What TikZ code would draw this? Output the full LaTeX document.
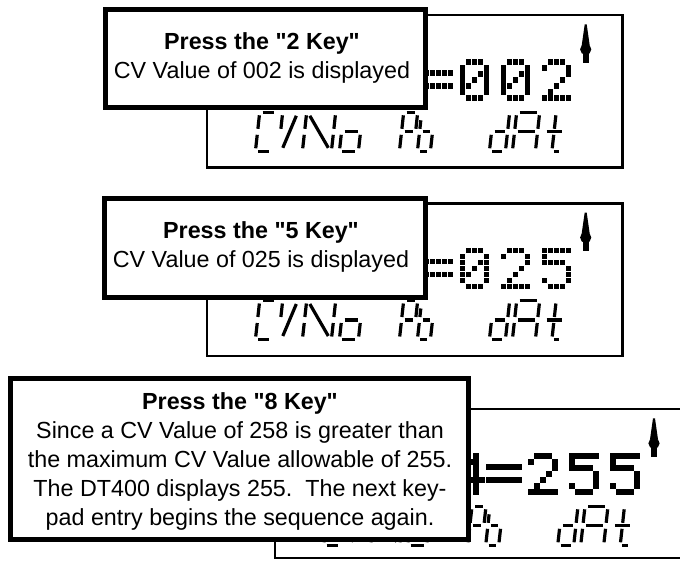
\documentclass[tikz,border=0pt]{standalone}
\usepackage{fontspec}
\setmainfont{Liberation Sans}
\tikzset{
  lcdpanel/.style={draw,line width=2.2pt,fill=white,inner sep=0pt,outer sep=0pt,anchor=north west,minimum width=415.8pt},
  keybox/.style={draw,line width=5pt,fill=white,inner sep=0pt,outer sep=0pt},
  keytext/.style={align=center,inner sep=0pt,anchor=north,font=\fontsize{23.3pt}{29pt}\selectfont},
  lcdseg/.style={line width=3.2pt}
}
\newcommand{\segA}{\draw[lcdseg] (3,0) -- (\chw-3,0);}
\newcommand{\segB}{\draw[lcdseg] (\chw,3) -- (\chw,16.5);}
\newcommand{\segC}{\draw[lcdseg] (\chw,22.5) -- (\chw,36);}
\newcommand{\segD}{\draw[lcdseg] (3,39) -- (\chw-3,39);}
\newcommand{\segE}{\draw[lcdseg] (0,22.5) -- (0,36);}
\newcommand{\segF}{\draw[lcdseg] (0,3) -- (0,16.5);}
\newcommand{\segS}{\draw[lcdseg] (0,8) -- (0,16.5);}
\newcommand{\segG}{\draw[lcdseg] (3,19.5) -- (\chw-3,19.5);}
\newcommand{\segI}{\draw[lcdseg] (\chw/2,3) -- (\chw/2,16.5);}
\newcommand{\segM}{\draw[lcdseg] (\chw/2,22.5) -- (\chw/2,36);}
\newcommand{\segQ}{\draw[lcdseg] (\chw/2+2,39) -- (\chw-3,39);}
\newcommand{\segX}{\draw[lcdseg] (3.5,3.5) -- (\chw-3.5,35.5);}
\newcommand{\segZ}{\draw[lcdseg] (4,35.5) -- (\chw-3,3.5);}
\newcommand{\lcdch}[3]{\begin{scope}[shift={(#1,97)},xslant=0.11]\def\chw{#2}\foreach \sg in {#3}{\csname seg\sg\endcsname}\end{scope}}
\newcommand{\dmzero}{1/0,2/0,3/0,0/1,4/1,0/2,3/2,4/2,0/3,2/3,4/3,0/4,1/4,4/4,0/5,4/5,1/6,2/6,3/6}
\newcommand{\dmtwo}{1/0,2/0,3/0,0/1,4/1,4/2,3/3,2/4,1/5,0/6,1/6,2/6,3/6,4/6}
\newcommand{\dmfive}{0/0,1/0,2/0,3/0,4/0,0/1,0/2,1/2,2/2,3/2,4/3,4/4,0/5,4/5,1/6,2/6,3/6}
\newcommand{\dmfour}{3/0,2/1,3/1,1/2,3/2,0/3,3/3,0/4,1/4,2/4,3/4,4/4,3/5,3/6}
\newcommand{\dmchar}[2]{\foreach \cx/\ry in #2 {\fill ({#1+6*\cx},{44+6*\ry}) rectangle ++(5.6,5.6);}}
\newcommand{\lcdscreen}[4]{\begin{scope}[shift={#1}]
\dmchar{180}{\dmfour}
\foreach \cx in {0,...,5} {\fill ({211+6*\cx},55) rectangle ++(5.6,5.6); \fill ({211+6*\cx},68) rectangle ++(5.6,5.6);}
\dmchar{253}{#2}\dmchar{294}{#3}\dmchar{335}{#4}
\fill (378,9) -- (380,9) -- (383,30) -- (375,30) -- cycle;
\fill (379,34) circle (5.6pt);
\fill (376,38) rectangle (382,47.5);
\lcdch{53}{17}{A,F,E,D}\lcdch{76}{17}{F,Z}\lcdch{100}{29}{F,E,X,B,C}\lcdch{137}{19}{G,E,D,C}
\lcdch{197}{14}{A,B,F,G,E}\lcdch{215}{13}{S,G,E,D,C}
\lcdch{287}{16}{B,C,D,E,G}\lcdch{310}{23}{A,B,C,E,F,G}\lcdch{339}{21}{I,M,G,Q}
\end{scope}}

\begin{document}
\begin{tikzpicture}[x=1pt,y=-1pt]
\useasboundingbox (0,0) rectangle (680,560);

\node[lcdpanel,minimum height=152.2pt] (panelTwo) at (206.7,15.3) {};
\lcdscreen{(206.7,15.3)}{\dmzero}{\dmzero}{\dmtwo}
\node[keybox,minimum width=319.5pt,minimum height=98pt] (keyTwo) at (265.3,58.5) {};
\node[keytext] (keyTwoText) at (262,32) {\textbf{Press the \textquotedbl2 Key\textquotedbl}\\CV Value of 002 is displayed};

\node[lcdpanel,minimum height=152.2pt] (panelFive) at (206.7,203.5) {};
\lcdscreen{(206.7,203.5)}{\dmzero}{\dmtwo}{\dmfive}
\node[keybox,minimum width=320.5pt,minimum height=99pt] (keyFive) at (264.8,247.5) {};
\node[keytext] (keyFiveText) at (261,221.7) {\textbf{Press the \textquotedbl5 Key\textquotedbl}\\CV Value of 025 is displayed};

\node[lcdpanel,minimum height=149pt] (panelEight) at (275,409.3) {};
\lcdscreen{(275,409.3)}{\dmtwo}{\dmfive}{\dmfive}
\node[keybox,minimum width=457.5pt,minimum height=161pt] (keyEight) at (239.3,459) {};
\node[keytext] (keyEightText) at (240,392.3) {\textbf{Press the \textquotedbl8 Key\textquotedbl}\\Since a CV Value of 258 is greater than\\the maximum CV Value allowable of 255.\\The DT400 displays 255.\ \ The next key-\\pad entry begins the sequence again.};
\end{tikzpicture}
\end{document}
